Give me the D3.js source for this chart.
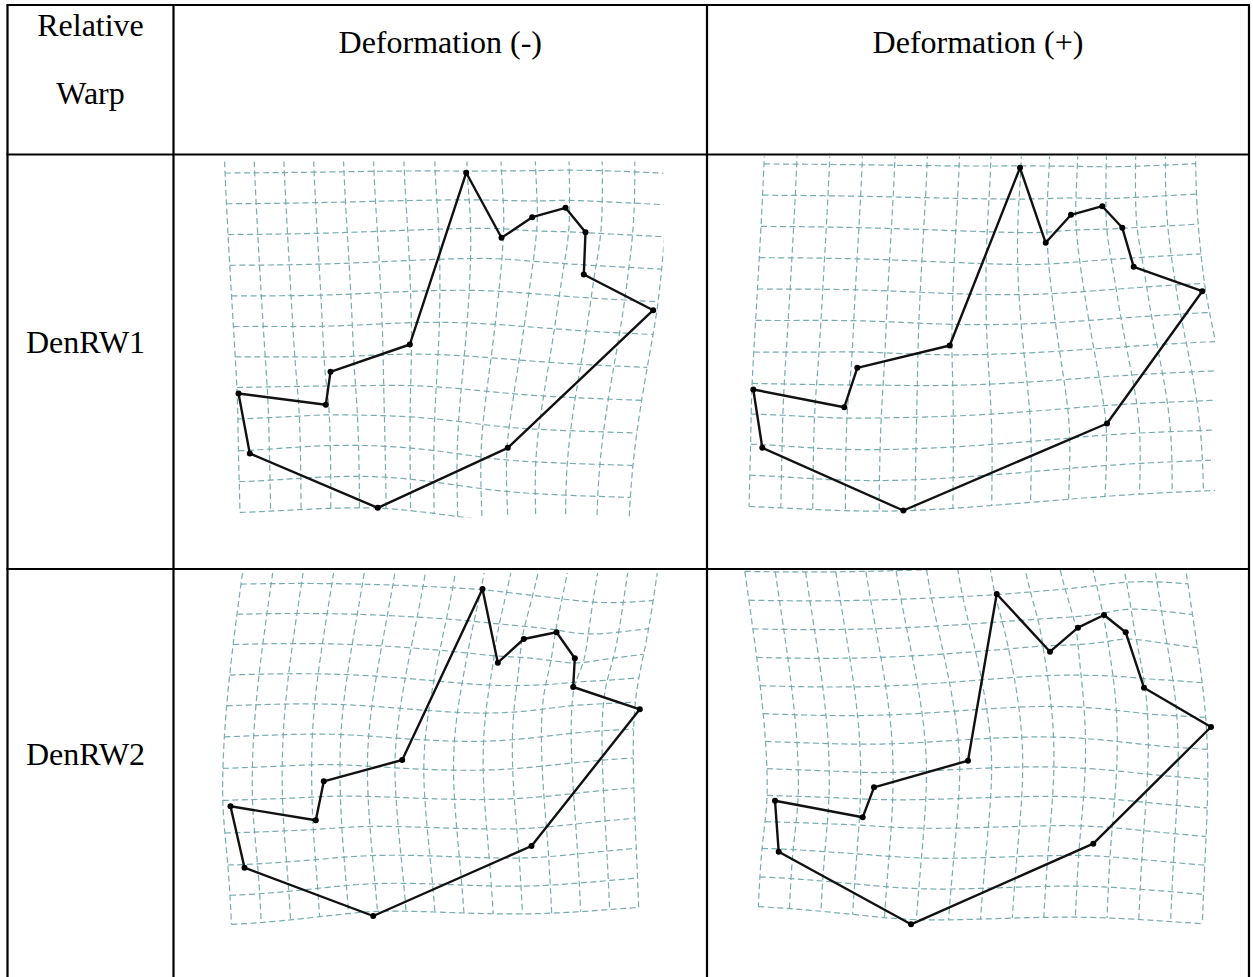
<!DOCTYPE html>
<html><head><meta charset="utf-8">
<script src="https://cdn.jsdelivr.net/npm/d3@7"></script>
</head><body style="margin:0;background:#fff">
<svg id="chart" width="1253" height="977" style="display:block;font-family:'Liberation Serif'"></svg>
<script>
// ---- table text ----
const cornerLabel = ["Relative", "Warp"];
const headerLabels = ["Deformation (-)", "Deformation (+)"];
const rowLabels = ["DenRW1", "DenRW2"];

// ---- landmark configurations (x, y) in each panel's own pixel frame,
//      listed in outline order, starting at the apex ----
const denRW1Neg = [[292.7,18.3],[328.0,83.3],[358.7,62.7],[392.0,53.3],[412.0,77.7],[410.3,120.0],[479.7,155.7],
                   [334.3,293.3],[204.3,353.3],[76.3,299.0],[65.0,239.0],[152.3,250.3],[157.0,217.3],[236.3,190.0]];
const denRW1Pos = [[313.0,13.3],[338.7,88.3],[364.0,60.3],[395.3,51.7],[415.3,73.3],[426.7,112.3],[495.3,136.7],
                   [400.0,269.0],[196.3,356.0],[55.3,293.3],[46.3,235.0],[137.3,252.7],[150.3,213.3],[242.7,191.0]];
const denRW2Neg = [[309.0,20.0],[324.3,93.7],[350.3,70.0],[383.0,63.3],[401.3,89.3],[399.7,118.0],[466.3,140.3],
                   [358.0,277.0],[199.7,347.0],[71.0,298.7],[57.0,237.3],[142.3,251.3],[150.3,212.3],[228.7,191.0]];
const denRW2Pos = [[289.7,25.0],[343.0,82.7],[371.0,58.7],[397.0,46.0],[418.7,63.3],[437.0,118.7],[504.0,158.0],
                   [386.3,274.7],[204.0,355.3],[71.7,282.7],[68.0,231.7],[155.7,248.3],[167.0,218.3],[261.0,191.7]];

// ---- layout ----
const W = 1253, H = 977;
const colX = [7.5, 173.5, 707, 1249];
const rowY = [5, 154.5, 569, 1000];
const FONT = 32;

// reference lattice (in the centred consensus frame) for each warp row
const lattices = [
  {x0: -227, y0: -156, dx: 31.2, dy: 31.0, cols: 15, rows: 12},
  {x0: -228, y0: -147, dx: 30.4, dy: 29.4, cols: 15, rows: 12}
];

// panel frames: clip window inside each cell (local pixels)
const panels = [
  {row: 0, col: 0, shape: denRW1Neg, clip: [40, 7, 490, 363]},
  {row: 0, col: 1, shape: denRW1Pos, clip: [38, 2, 508, 372]},
  {row: 1, col: 0, shape: denRW2Neg, clip: [37, 4, 507, 372]},
  {row: 1, col: 1, shape: denRW2Pos, clip: [33, 1, 509, 378]}
];
const pairs = [[denRW1Neg, denRW1Pos], [denRW2Neg, denRW2Pos]];

const svg = d3.select("#chart");

// ---- text ----
function label(x, y, t, anchor) {
  svg.append("text").attr("x", x).attr("y", y).attr("text-anchor", anchor)
    .attr("font-family", "Liberation Serif")
    .style("font-family", "Liberation Serif").style("font-size", FONT + "px")
    .attr("fill", "#000").text(t);
}
const cx1 = (colX[0] + colX[1]) / 2;
label(cx1, 35.7, cornerLabel[0], "middle");
label(cx1, 104, cornerLabel[1], "middle");
headerLabels.forEach((t, i) => label((colX[i + 1] + colX[i + 2]) / 2, 53.3, t, "middle"));
const rowBase = [353.3, 765];
rowLabels.forEach((t, i) => label(26, rowBase[i], t, "start"));

// ---- thin-plate spline ----
function solve(A, b) {
  const n = b.length;
  const M = A.map((r, i) => r.slice().concat([b[i]]));
  for (let c = 0; c < n; c++) {
    let p = c;
    for (let r = c + 1; r < n; r++) if (Math.abs(M[r][c]) > Math.abs(M[p][c])) p = r;
    [M[c], M[p]] = [M[p], M[c]];
    for (let r = c + 1; r < n; r++) {
      const f = M[r][c] / M[c][c];
      for (let k = c; k <= n; k++) M[r][k] -= f * M[c][k];
    }
  }
  const x = new Array(n).fill(0);
  for (let r = n - 1; r >= 0; r--) {
    let s = M[r][n];
    for (let k = r + 1; k < n; k++) s -= M[r][k] * x[k];
    x[r] = s / M[r][r];
  }
  return x;
}
function fitTPS(src, dst) {
  const s = 0.01, n = src.length;
  const P = src.map(p => [p[0] * s, p[1] * s]);
  const U = r2 => r2 === 0 ? 0 : r2 * Math.log(r2);
  const d2 = (a, b) => (a[0] - b[0]) ** 2 + (a[1] - b[1]) ** 2;
  const N = n + 3;
  const A = Array.from({length: N}, () => new Array(N).fill(0));
  for (let i = 0; i < n; i++) {
    for (let j = 0; j < n; j++) A[i][j] = U(d2(P[i], P[j]));
    A[i][n] = 1; A[i][n + 1] = P[i][0]; A[i][n + 2] = P[i][1];
    A[n][i] = 1; A[n + 1][i] = P[i][0]; A[n + 2][i] = P[i][1];
  }
  const cx = solve(A, dst.map(d => d[0]).concat([0, 0, 0]));
  const cy = solve(A, dst.map(d => d[1]).concat([0, 0, 0]));
  return p => {
    const q = [p[0] * s, p[1] * s];
    let fx = cx[n] + cx[n + 1] * q[0] + cx[n + 2] * q[1];
    let fy = cy[n] + cy[n + 1] * q[0] + cy[n + 2] * q[1];
    for (let i = 0; i < n; i++) {
      const u = U(d2(q, P[i]));
      fx += cx[i] * u; fy += cy[i] * u;
    }
    return [fx, fy];
  };
}
function centred(cfg) {
  const mx = d3.mean(cfg, d => d[0]), my = d3.mean(cfg, d => d[1]);
  return cfg.map(d => [d[0] - mx, d[1] - my]);
}
// consensus = midpoint of the two extreme configurations
const consensus = pairs.map(([a, b]) => {
  const ca = centred(a), cb = centred(b);
  return ca.map((p, i) => [(p[0] + cb[i][0]) / 2, (p[1] + cb[i][1]) / 2]);
});

// ---- deformation panels ----
const defs = svg.append("defs");

panels.forEach((pn, k) => {
  const cx0 = colX[pn.col + 1], cy0 = rowY[pn.row + 1];
  const cw = colX[pn.col + 2] - cx0, ch = rowY[pn.row + 2] - cy0;
  const x = d3.scaleLinear().domain([0, cw]).range([cx0, cx0 + cw]);
  const y = d3.scaleLinear().domain([0, ch]).range([cy0, cy0 + ch]);
  const L = lattices[pn.row];
  const warp = fitTPS(consensus[pn.row], pn.shape);

  defs.append("clipPath").attr("id", "clip" + k).append("rect")
    .attr("x", x(pn.clip[0])).attr("y", y(pn.clip[1]))
    .attr("width", x(pn.clip[2]) - x(pn.clip[0])).attr("height", y(pn.clip[3]) - y(pn.clip[1]));

  const g = svg.append("g").attr("class", "panel");
  g.append("rect").attr("x", x(pn.clip[0])).attr("y", y(pn.clip[1]))
    .attr("width", x(pn.clip[2]) - x(pn.clip[0])).attr("height", y(pn.clip[3]) - y(pn.clip[1]))
    .attr("fill", "#fff");

  const line = d3.line().x(d => x(d[0])).y(d => y(d[1]));
  const sub = 6;
  const gridLines = [];
  for (let r = -1; r < L.rows; r++) {
    const pts = [];
    for (let t = 0; t <= (L.cols - 1) * sub; t++) pts.push(warp([L.x0 + t * L.dx / sub, L.y0 + r * L.dy]));
    gridLines.push(pts);
  }
  for (let c = 0; c < L.cols; c++) {
    const pts = [];
    for (let t = -sub; t <= (L.rows - 1) * sub; t++) pts.push(warp([L.x0 + c * L.dx, L.y0 + t * L.dy / sub]));
    gridLines.push(pts);
  }
  g.append("g").attr("clip-path", `url(#clip${k})`)
    .selectAll("path").data(gridLines).join("path")
    .attr("d", line).attr("fill", "none")
    .attr("stroke", "#79abaf").attr("stroke-width", 1.2)
    .attr("stroke-dasharray", "6,3.5");

  g.append("path").datum(pn.shape)
    .attr("d", d3.line().x(d => x(d[0])).y(d => y(d[1])).curve(d3.curveLinearClosed))
    .attr("fill", "none").attr("stroke", "#111").attr("stroke-width", 2.4)
    .attr("stroke-linejoin", "round");
  g.selectAll("circle").data(pn.shape).join("circle")
    .attr("cx", d => x(d[0])).attr("cy", d => y(d[1])).attr("r", 3).attr("fill", "#000");
});

// ---- table rules ----
const rules = svg.append("g").attr("stroke", "#000").attr("stroke-width", 2.2);
colX.forEach(cx => rules.append("line").attr("x1", cx).attr("x2", cx).attr("y1", rowY[0]).attr("y2", H + 5));
rowY.slice(0, 3).forEach(ry => rules.append("line").attr("x1", colX[0] - 1).attr("x2", colX[3] + 1).attr("y1", ry).attr("y2", ry));
</script>
</body></html>
